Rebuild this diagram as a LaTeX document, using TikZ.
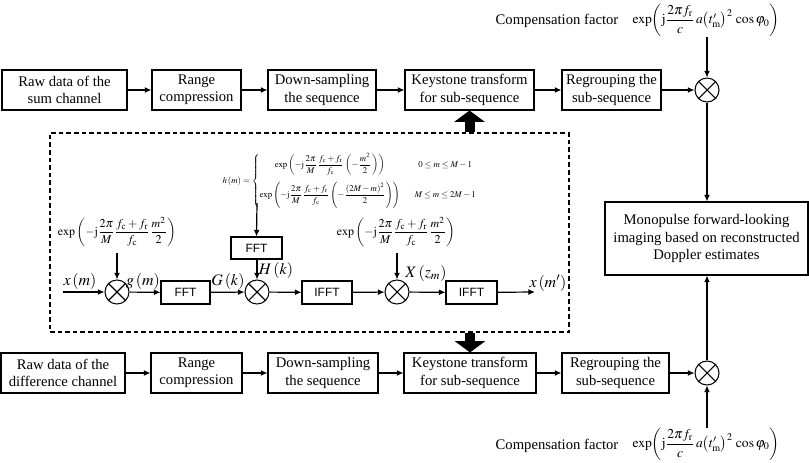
\documentclass[tikz,border=0pt]{standalone}
\usepackage{amsmath}
\usepackage{mathptmx}
\usepackage{fontspec}
\setmainfont{Liberation Serif}
\newfontfamily\sansf{Liberation Sans}
\usetikzlibrary{arrows.meta}
\newcommand\mybox[7][box]{%
  \pgfmathsetmacro\bw{(#4-#2)*0.75}%
  \pgfmathsetmacro\bh{(#5-#3)*0.75}%
  \node[#1, minimum width=\bw pt, minimum height=\bh pt] (#6) at ({(#2+#4)/2},{(#3+#5)/2}) {#7};}
\newcommand\mymult[3]{%
  \node[mult] (#1) at (#2,#3) {};
  \draw[line width=0.8pt] (#1.north east) -- (#1.south west) (#1.north west) -- (#1.south east);}
\newcommand\compf{$\exp\biggl(\mathrm{j}\dfrac{2\pi f_{\mathrm{r}}}{c}\,a\bigl(t_{\mathrm{m}}^{\prime}\bigr)^{2}\,\cos\varphi_{0}\biggr)$}
\begin{document}
\begin{tikzpicture}[x=0.75pt,y=-0.75pt,
  box/.style={draw, line width=0.8pt, align=center, inner sep=1pt, font=\fontsize{11}{13}\selectfont},
  sbox/.style={draw, line width=0.8pt, inner sep=0pt, font=\sansf\fontsize{9}{10}\selectfont},
  arr/.style={line width=0.9pt, -{Latex[length=5pt,width=4.5pt]}},
  mult/.style={draw, circle, line width=0.8pt, minimum size=18pt, inner sep=0pt},
  lab/.style={inner sep=0pt, font=\fontsize{12}{14}\selectfont},
  frm/.style={inner sep=0pt, font=\fontsize{9}{10}\selectfont},
  cfrm/.style={inner sep=0pt, font=\fontsize{10.2}{12}\selectfont},
  ctext/.style={inner sep=0pt, font=\fontsize{11}{13}\selectfont},
  blk/.style={line width=7.5pt, -{Triangle[length=8.5pt,width=22.5pt]}}
]
\useasboundingbox (0,0) rectangle (809,463);

% top row
\mybox{2}{70}{127}{110}{B1}{Raw data of the\\sum channel}
\mybox{152}{70}{241}{110}{B2}{Range\\compression}
\mybox{268}{70}{376}{110}{B3}{Down-sampling\\the sequence}
\mybox{405}{70}{534}{110}{B4}{Keystone transform\\for sub-sequence}
\mybox{562}{70}{661}{110}{B5}{Regrouping the\\sub-sequence}
\mymult{M1}{707}{90}

% bottom row
\mybox{1}{353}{125}{393}{D1}{Raw data of the\\difference channel}
\mybox{151}{353}{242}{393}{D2}{Range\\compression}
\mybox{268}{353}{378}{393}{D3}{Down-sampling\\the sequence}
\mybox{404}{353}{536}{393}{D4}{Keystone transform\\for sub-sequence}
\mybox{562}{353}{669}{393}{D5}{Regrouping the\\sub-sequence}
\mymult{M2}{707}{373}

% big box
\mybox{605}{202}{808}{275}{BIG}{Monopulse forward-looking\\imaging based on reconstructed\\Doppler estimates}

% compensation factors
\node[ctext] (ct1) at (557,21) {Compensation factor};
\node[cfrm, anchor=north] (tf1) at (706,4) {\compf};
\node[ctext] (ct2) at (557,446) {Compensation factor};
\node[cfrm, anchor=south] (tf2) at (706,461) {\compf};

% row connectors
\draw[arr] (B1) -- (B2);
\draw[arr] (B2) -- (B3);
\draw[arr] (B3) -- (B4);
\draw[arr] (B4) -- (B5);
\draw[arr] (B5) -- (M1);
\draw[arr] (D1) -- (D2);
\draw[arr] (D2) -- (D3);
\draw[arr] (D3) -- (D4);
\draw[arr] (D4) -- (D5);
\draw[arr] (D5) -- (M2);
\draw[arr] (tf1.south -| M1) -- (M1.north);
\draw[arr] (tf2.north -| M2) -- (M2.south);
\draw[arr] (M1.south) -- (M1.south |- BIG.north);
\draw[arr] (M2.north) -- (M2.north |- BIG.south);

% dashed box
\node[draw, line width=0.9pt, dash pattern=on 3.5pt off 2.2pt, minimum width=389.25pt, minimum height=149.25pt, inner sep=0pt] (DB) at (309.5,232.5) {};
\draw[blk] (DB.north -| B4.south) -- (B4.south);
\draw[blk] (DB.south -| D4.north) -- (D4.north);

% inner chain
\coordinate (IN) at (63,292);
\coordinate (OUT) at (535,292);
\mymult{C1}{117}{292}
\mybox[sbox]{161}{281}{210}{304}{F1}{FFT}
\mymult{C2}{257}{292}
\mybox[sbox]{302}{281}{352}{304}{I1}{IFFT}
\mymult{C3}{397}{292}
\mybox[sbox]{446}{281}{497}{304}{I2}{IFFT}
\mybox[sbox]{231}{237}{282}{259}{F2}{FFT}

\draw[arr] (IN) -- (C1);
\draw[arr] (C1) -- (F1);
\draw[arr] (F1) -- (C2);
\draw[arr] (C2) -- (I1);
\draw[arr] (I1) -- (C3);
\draw[arr] (C3) -- (I2);
\draw[arr] (I2) -- (OUT);
\draw[arr] (F2.south -| C2) -- (C2.north);

\node[lab] (lx) at (80,281) {$x\left(m\right)$};
\node[lab] (lg) at (143,281) {$g\left(m\right)$};
\node[lab] (lG) at (228,281) {$G\left(k\right)$};
\node[lab] (lH) at (276,270) {$H\left(k\right)$};
\node[lab] (lX) at (426,273) {$X\left(z_{m}\right)$};
\node[lab] (lo) at (548,283) {$x\left(m'\right)$};

\node[frm] (e1) at (117,232) {$\exp\left(-\mathrm{j}\dfrac{2\pi}{M}\dfrac{f_{\mathrm{c}}+f_{\mathrm{r}}}{f_{\mathrm{c}}}\dfrac{m^{2}}{2}\right)$};
\node[frm] (e3) at (396,232) {$\exp\left(-\mathrm{j}\dfrac{2\pi}{M}\dfrac{f_{\mathrm{c}}+f_{\mathrm{r}}}{f_{\mathrm{c}}}\dfrac{m^{2}}{2}\right)$};
\coordinate (e1b) at (117,253);
\coordinate (e3b) at (397,253);
\draw[arr] (e1b) -- (C1.north);
\draw[arr] (e3b) -- (C3.north);

\node[inner sep=0pt, font=\fontsize{6.6}{7.5}\selectfont] (HF) at (350,181) {$h\left(m\right)=\left\{\begin{array}{@{}c@{\hspace{11pt}}c@{}}
\exp\left(-\mathrm{j}\dfrac{2\pi}{M}\dfrac{f_{\mathrm{c}}+f_{\mathrm{r}}}{f_{\mathrm{c}}}\left(-\dfrac{m^{2}}{2}\right)\right) & 0\le m\le M-1\\[9pt]
\exp\left(-\mathrm{j}\dfrac{2\pi}{M}\dfrac{f_{\mathrm{c}}+f_{\mathrm{r}}}{f_{\mathrm{c}}}\left(-\dfrac{\left(2M-m\right)^{2}}{2}\right)\right) & M\le m\le 2M-1
\end{array}\right.$};
\coordinate (hb) at (257,203);
\draw[arr] (hb) -- (F2.north);
\end{tikzpicture}
\end{document}
